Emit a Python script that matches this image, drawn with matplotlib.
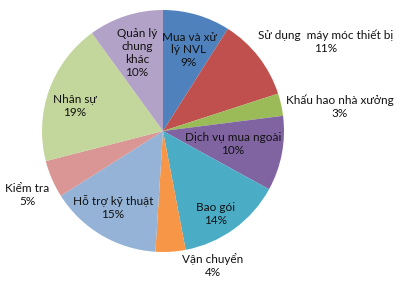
import matplotlib
matplotlib.use("Agg")
import matplotlib.pyplot as plt

labels = ["Mua và xử\nlý NVL", "Sử dụng  máy móc thiết bị", "Khấu hao nhà xưởng",
          "Dịch vụ mua ngoài", "Bao gói", "Vận chuyển", "Hỗ trợ kỹ thuật",
          "Kiểm tra", "Nhân sự", "Quản lý\nchung\nkhác"]
values = [9, 11, 3, 10, 14, 4, 15, 5, 19, 10]
colors = ["#4F81BD", "#C0504D", "#9BBB59", "#8064A2", "#4BACC6",
          "#F79646", "#95B3D7", "#D99694", "#C3D69B", "#B3A2C7"]
# label centre in pixel space (x, y from top)
label_pos = [(189, 50), (326, 42), (340, 107), (233, 144), (216, 214),
             (213, 266), (113, 208), (27, 195), (75, 106), (137, 53)]

W, H = 402, 281
fig = plt.figure(figsize=(W / 100, H / 100), dpi=100)
ax = fig.add_axes([0, 0, 1, 1])

ax.pie(values, colors=colors, startangle=90, counterclock=False,
       center=(163, H - 131), radius=121, frame=True,
       wedgeprops=dict(linewidth=0))
ax.set_xlim(0, W)
ax.set_ylim(0, H)
ax.set_aspect("equal")
ax.axis("off")

for lab, v, (px, py) in zip(labels, values, label_pos):
    ax.text(px, H - py, f"{lab}\n{v}%", ha="center", va="center",
            fontsize=8.5, family=["Lato", "DejaVu Sans"], color="#111111",
            linespacing=1.22)

fig.savefig("out.png", dpi=100)
